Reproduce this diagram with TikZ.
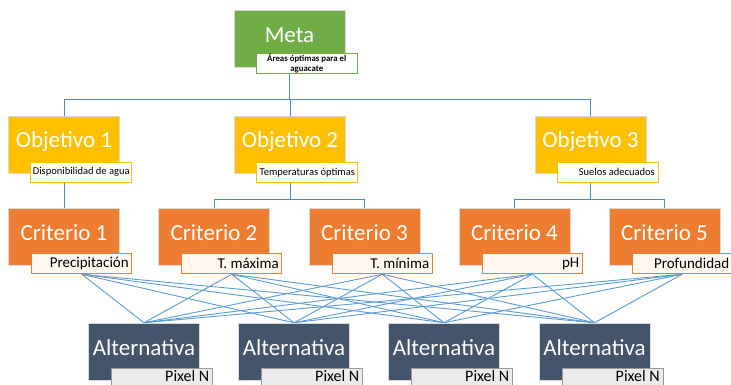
\documentclass[tikz,border=0pt]{standalone}
\usepackage{fontspec}
\setmainfont{Carlito}
\usetikzlibrary{backgrounds,calc}
\definecolor{cgreen}{HTML}{70AD47}
\definecolor{cgold}{HTML}{FFC000}
\definecolor{corange}{HTML}{ED7D31}
\definecolor{cslate}{HTML}{44546A}
\definecolor{cline}{HTML}{5B9BD5}
\definecolor{ctree}{HTML}{4F86C6}
\newcommand{\subR}[1]{\makebox[94pt][r]{#1}}
\newcommand{\subC}[1]{\makebox[95pt][c]{#1}}
\begin{document}
\begin{tikzpicture}[x=1pt,y=-1pt,
  mainbox/.style={draw=black!15, line width=0.5pt, minimum width=111pt, minimum height=57pt, inner sep=0pt},
  mainlbl/.style={text=white, font=\fontsize{23}{27}\selectfont, yshift=3.5pt},
  subbox/.style={line width=1pt, minimum width=101pt, minimum height=20pt, inner sep=0pt, anchor=north west},
  metasub/.style={subbox, draw=cgreen, fill=white, align=center, font=\bfseries\fontsize{8.8}{9.4}\selectfont},
  objsub/.style={subbox, draw=cgold, fill=white, font=\fontsize{10.5}{12}\selectfont},
  critsub/.style={subbox, minimum width=100pt, draw=corange, fill=orange!6, font=\fontsize{15}{17}\selectfont},
  altsub/.style={subbox, minimum height=17.5pt, draw=black!40, fill=black!8, text height=11pt, text depth=2.5pt, font=\fontsize{16}{18}\selectfont},
  tree/.style={draw=ctree, line width=1pt},
  cross/.style={draw=cline, line width=0.9pt}]
\useasboundingbox (0,0) rectangle (731,385);

% Meta
\node[mainbox, fill=cgreen, label={[mainlbl]center:Meta}] (meta) at (289.5,38.5) {};
\node[metasub] (msub) at ($(meta.south west)+(22,-14)$) {Áreas óptimas para el\\aguacate};

% Objetivos
\node[mainbox, fill=cgold, label={[mainlbl]center:Objetivo 1}] (obj1) at (64,145) {};
\node[mainbox, fill=cgold, label={[mainlbl]center:Objetivo 2}] (obj2) at (290,145) {};
\node[mainbox, fill=cgold, label={[mainlbl]center:Objetivo 3}] (obj3) at (590.5,145) {};
\node[objsub] (o1sub) at ($(obj1.south west)+(22,-12)$) {\subC{Disponibilidad de agua}};
\node[objsub] (o2sub) at ($(obj2.south west)+(22,-12)$) {\subC{Temperaturas óptimas}};
\node[objsub] (o3sub) at ($(obj3.south west)+(22,-12)$) {\subR{Suelos adecuados}\hspace{3pt}};

% Criterios
\node[mainbox, fill=corange, label={[mainlbl]center:Criterio 1}] (c1) at (64,236.5) {};
\node[mainbox, fill=corange, label={[mainlbl]center:Criterio 2}] (c2) at (214,236.5) {};
\node[mainbox, fill=corange, label={[mainlbl]center:Criterio 3}] (c3) at (364.5,236.5) {};
\node[mainbox, fill=corange, label={[mainlbl]center:Criterio 4}] (c4) at (514.5,236.5) {};
\node[mainbox, fill=corange, label={[mainlbl]center:Criterio 5}] (c5) at (664.5,236.5) {};
\node[critsub] (c1s) at ($(c1.south west)+(23,-12)$) {\subR{Precipitación}\hspace{4pt}};
\node[critsub] (c2s) at ($(c2.south west)+(23,-12)$) {\subR{T. máxima}\hspace{4pt}};
\node[critsub] (c3s) at ($(c3.south west)+(23,-12)$) {\subR{T. mínima}\hspace{4pt}};
\node[critsub] (c4s) at ($(c4.south west)+(23,-12)$) {\subR{pH}\hspace{4pt}};
\node[critsub] (c5s) at ($(c5.south west)+(23,-12)$) {\subR{Profundidad}\hspace{2pt}};

% Alternativas
\node[mainbox, fill=cslate, label={[mainlbl]center:Alternativa}] (a1) at (144,351.5) {};
\node[mainbox, fill=cslate, label={[mainlbl]center:Alternativa}] (a2) at (294,351.5) {};
\node[mainbox, fill=cslate, label={[mainlbl]center:Alternativa}] (a3) at (444,351.5) {};
\node[mainbox, fill=cslate, label={[mainlbl]center:Alternativa}] (a4) at (594.5,351.5) {};
\node[altsub] (a1s) at ($(a1.south west)+(23,-12)$) {\subR{Pixel N}\hspace{3pt}};
\node[altsub] (a2s) at ($(a2.south west)+(23,-12)$) {\subR{Pixel N}\hspace{3pt}};
\node[altsub] (a3s) at ($(a3.south west)+(23,-12)$) {\subR{Pixel N}\hspace{3pt}};
\node[altsub] (a4s) at ($(a4.south west)+(23,-12)$) {\subR{Pixel N}\hspace{3pt}};

\begin{scope}[on background layer]
  \coordinate (bus) at (289.5,100);
  \coordinate (b2) at (290,199);
  \coordinate (b3) at (590.5,199);
  \draw[tree] (meta.south) -- (bus);
  \draw[tree] (bus) -| (obj1.north);
  \draw[tree] (bus) -| (obj2.north);
  \draw[tree] (bus) -| (obj3.north);
  \draw[tree] (obj1.south) -- (c1.north);
  \draw[tree] (obj2.south) -- (b2);
  \draw[tree] (b2) -| (c2.north);
  \draw[tree] (b2) -| (c3.north);
  \draw[tree] (obj3.south) -- (b3);
  \draw[tree] (b3) -| (c4.north);
  \draw[tree] (b3) -| (c5.north);
  \foreach \c in {c1s,c2s,c3s,c4s,c5s}{
    \foreach \a in {a1,a2,a3,a4}{
      \draw[cross] (\c.south) -- (\a.north);
    }
  }
\end{scope}
\end{tikzpicture}
\end{document}
